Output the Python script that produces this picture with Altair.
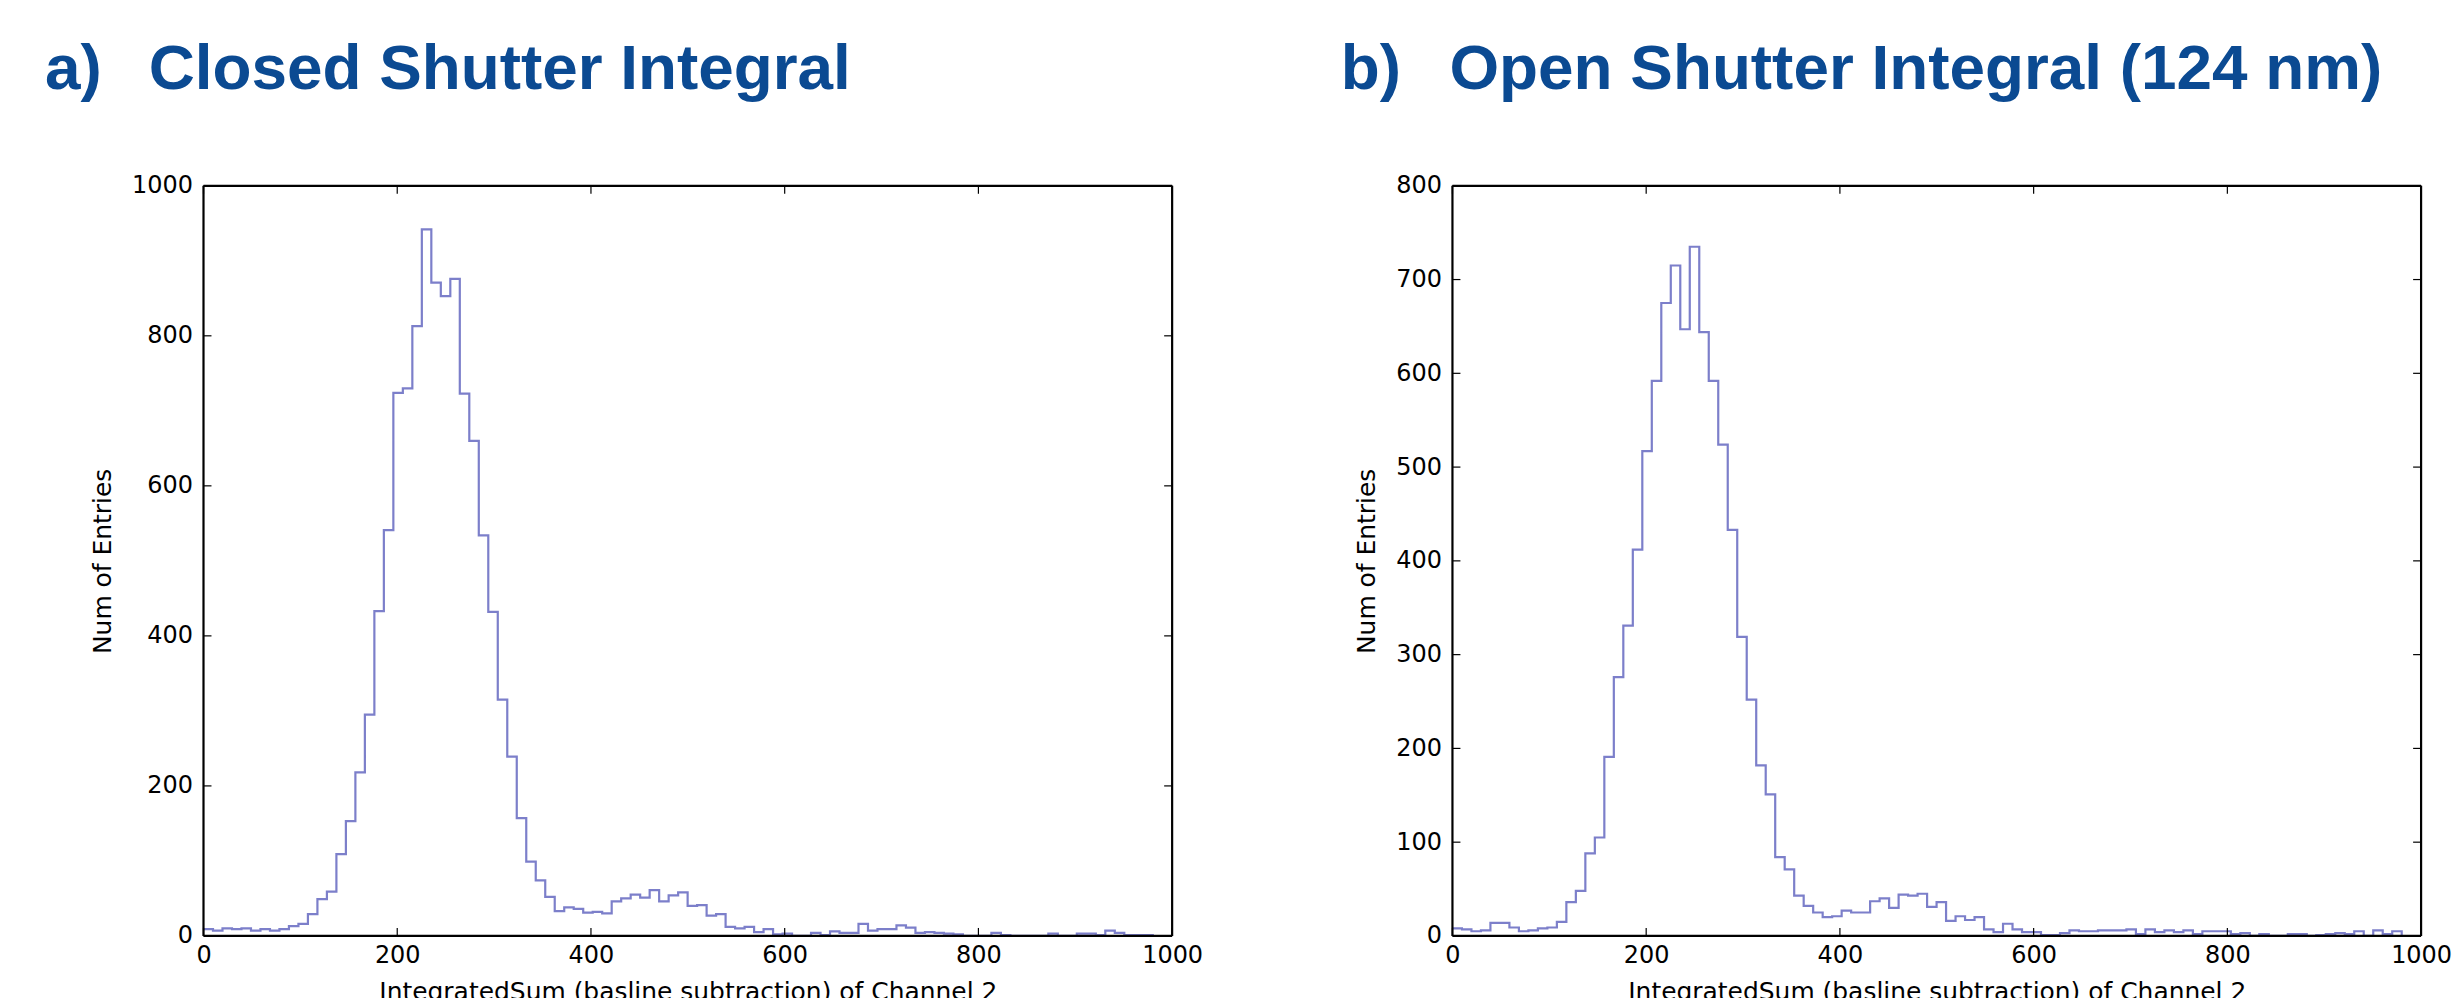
import altair as alt
import pandas as pd

# ---------------- data ----------------
BIN_WIDTH = 9.8

closed_counts = [
    9, 7, 10, 9, 10, 7, 9, 7, 9, 13,
    16, 29, 49, 59, 109, 153, 218, 295, 433, 541,
    724, 730, 813, 942, 871, 853, 876, 723, 660, 534,
    432, 315, 239, 157, 99, 74, 52, 33, 38, 36,
    31, 32, 30, 46, 50, 55, 51, 61, 46, 54,
    58, 40, 41, 27, 29, 12, 10, 12, 5, 9,
    2, 3, 0, 0, 4, 1, 6, 4, 4, 16,
    7, 9, 9, 14, 11, 4, 5, 4, 3, 2,
    0, 0, 0, 4, 1, 0, 0, 0, 0, 3,
    0, 0, 3, 3, 1, 7, 4, 1, 1, 1,
]

open_counts = [
    8, 7, 5, 6, 14, 14, 9, 5, 6, 8,
    9, 15, 36, 48, 88, 105, 191, 276, 331, 412,
    517, 592, 675, 715, 647, 735, 644, 592, 524, 433,
    319, 252, 182, 151, 84, 71, 43, 32, 25, 20,
    21, 27, 25, 25, 37, 40, 30, 44, 43, 45,
    31, 36, 16, 21, 17, 20, 7, 4, 13, 7,
    4, 4, 1, 1, 3, 6, 5, 5, 6, 6,
    6, 7, 2, 7, 4, 6, 4, 6, 2, 5,
    5, 5, 2, 3, 0, 2, 0, 0, 2, 2,
    0, 1, 2, 3, 2, 5, 0, 6, 2, 5,
]

x_ticks = [0, 200, 400, 600, 800, 1000]
closed_y_ticks = [0, 200, 400, 600, 800, 1000]
open_y_ticks = [0, 100, 200, 300, 400, 500, 600, 700, 800]

x_title = "IntegratedSum (basline subtraction) of Channel 2"
y_title = "Num of Entries"

panel_a = ["a)", "Closed Shutter Integral"]
panel_b = ["b)", "Open Shutter Integral (124 nm)"]

# ---------------- style ----------------
W, H = 971, 752
LINE = "#7c7fca"
TITLE_BLUE = "#0b4a92"
TICK_LEN = 8
FONT = "DejaVu Sans"


def step_frame(counts):
    n = len(counts)
    xs = [i * BIN_WIDTH for i in range(n)] + [n * BIN_WIDTH, n * BIN_WIDTH]
    ys = list(counts) + [counts[-1], 0]
    return pd.DataFrame({"x": xs, "y": ys, "o": list(range(len(xs)))})


def panel(counts, ymax, yticks, labels, letter_x, name_x):
    xs = alt.Scale(domain=[0, 1000], nice=False, zero=False)
    ys = alt.Scale(domain=[0, ymax], nice=False)
    x_axis = alt.Axis(values=x_ticks, title=x_title, ticks=False, domain=False,
                      grid=False, labelFlush=False, labelOverlap=False,
                      labelFont=FONT, labelFontSize=24, labelColor="black",
                      labelPadding=8, titleFont=FONT, titleFontSize=25,
                      titleFontWeight="normal", titleColor="black",
                      titlePadding=12, format="d")
    y_axis = alt.Axis(values=yticks, title=y_title, ticks=False, domain=False,
                      grid=False, labelFlush=False, labelOverlap=False,
                      labelFont=FONT, labelFontSize=24, labelColor="black",
                      labelPadding=11, titleFont=FONT, titleFontSize=25,
                      titleFontWeight="normal", titleColor="black",
                      titlePadding=16, format="d")

    line = alt.Chart(step_frame(counts)).mark_line(
        interpolate="step-after", color=LINE, strokeWidth=2.2
    ).encode(
        x=alt.X("x:Q", scale=xs, axis=x_axis),
        y=alt.Y("y:Q", scale=ys, axis=y_axis),
        order="o:Q",
    )

    xt = pd.DataFrame({"v": x_ticks})
    yt = pd.DataFrame({"v": yticks})
    tick_style = dict(color="black", strokeWidth=1.2)
    bx = alt.Chart(xt).mark_rule(**tick_style).encode(
        x=alt.X("v:Q", scale=xs, axis=x_axis), y=alt.value(H - TICK_LEN), y2=alt.value(H))
    tx = alt.Chart(xt).mark_rule(**tick_style).encode(
        x=alt.X("v:Q", scale=xs, axis=x_axis), y=alt.value(0), y2=alt.value(TICK_LEN))
    ly = alt.Chart(yt).mark_rule(**tick_style).encode(
        y=alt.Y("v:Q", scale=ys, axis=y_axis), x=alt.value(0), x2=alt.value(TICK_LEN))
    ry = alt.Chart(yt).mark_rule(**tick_style).encode(
        y=alt.Y("v:Q", scale=ys, axis=y_axis), x=alt.value(W - TICK_LEN), x2=alt.value(W))

    one = pd.DataFrame({"d": [0]})
    fs = dict(color="black", strokeWidth=2.2)
    f_top = alt.Chart(one).mark_rule(**fs).encode(x=alt.value(0), x2=alt.value(W), y=alt.value(0))
    f_bot = alt.Chart(one).mark_rule(**fs).encode(x=alt.value(0), x2=alt.value(W), y=alt.value(H))
    f_left = alt.Chart(one).mark_rule(**fs).encode(x=alt.value(0), y=alt.value(0), y2=alt.value(H))
    f_right = alt.Chart(one).mark_rule(**fs).encode(x=alt.value(W), y=alt.value(0), y2=alt.value(H))

    tstyle = dict(align="left", baseline="alphabetic", font="Liberation Sans",
                  fontWeight="bold", fontSize=64, color=TITLE_BLUE)
    t1 = alt.Chart(pd.DataFrame({"t": [labels[0]]})).mark_text(**tstyle).encode(
        text="t:N", x=alt.value(letter_x), y=alt.value(-97))
    t2 = alt.Chart(pd.DataFrame({"t": [labels[1]]})).mark_text(**tstyle).encode(
        text="t:N", x=alt.value(name_x), y=alt.value(-97))

    return alt.layer(line, bx, tx, ly, ry, f_top, f_bot, f_left, f_right, t1, t2).properties(
        width=W, height=H)


left = panel(closed_counts, 1000, closed_y_ticks, panel_a, -159, -55)
right = panel(open_counts, 800, open_y_ticks, panel_b, -112, -3)

chart = alt.hconcat(left, right, spacing=138).properties(
    padding={"left": 45, "top": 37, "right": 5, "bottom": 5},
    background="white",
).configure_view(stroke=None)

chart.save("out.html", embed_options={"renderer": "svg", "actions": False})
